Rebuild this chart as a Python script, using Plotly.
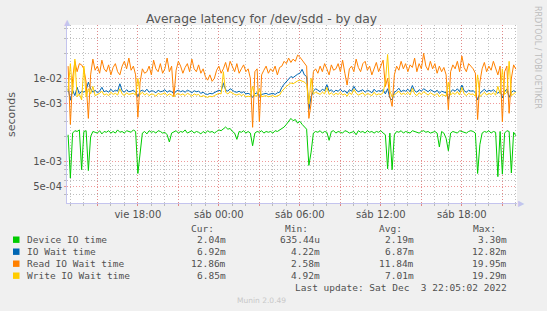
import numpy as np
import pandas as pd
import plotly.graph_objects as go

# ---------------- data (in milliseconds) ----------------
times = pd.date_range("2022-12-02 12:50:00", periods=200, freq="10min")

device_ms = [
    2.1, 0.635, 2.2, 2.35, 2.3, 2.4, 0.8, 2.3, 2.35, 0.78,
    2.0, 2.3, 2.25, 2.2, 2.35, 2.15, 2.3, 2.25, 2.35, 2.2,
    2.3, 2.2, 2.4, 2.25, 2.3, 2.2, 2.35, 2.3, 2.25, 2.4,
    2.3, 0.72, 1.3, 2.2, 2.3, 2.15, 2.35, 2.25, 2.3, 2.2,
    2.35, 2.3, 2.2, 2.25, 2.1, 1.72, 2.2, 2.3, 2.35, 2.2,
    2.3, 2.25, 2.4, 2.2, 2.3, 2.35, 2.2, 2.3, 2.25, 2.15,
    2.3, 2.2, 2.35, 2.25, 2.3, 2.2, 2.3, 2.4, 2.35, 2.5,
    2.6, 2.45, 2.5, 2.3, 2.2, 1.85, 2.3, 2.25, 2.35, 2.2,
    2.3, 2.2, 1.55, 2.2, 2.3, 2.25, 2.35, 2.2, 2.3, 2.25,
    2.3, 2.2, 2.35, 2.3, 2.4, 2.5, 2.6, 2.8, 3.0, 3.3,
    3.1, 3.2, 2.9, 3.05, 2.8, 2.6, 2.45, 0.9, 1.3, 2.2,
    2.3, 2.25, 2.35, 2.2, 2.3, 2.25, 1.8, 2.3, 2.35, 2.2,
    2.3, 2.25, 2.2, 2.35, 2.3, 2.2, 2.25, 2.3, 2.1, 2.35,
    2.25, 2.3, 2.2, 2.35, 2.25, 2.3, 2.2, 2.3, 2.25, 2.35,
    2.2, 2.1, 0.82, 2.2, 0.8, 2.1, 2.3, 2.25, 2.35, 2.2,
    2.3, 2.25, 2.2, 2.35, 2.3, 2.25, 2.2, 2.3, 2.35, 2.25,
    2.3, 2.2, 2.25, 2.3, 2.2, 1.5, 2.3, 2.2, 1.9, 1.35,
    2.2, 2.3, 2.25, 2.2, 2.35, 2.3, 2.25, 2.2, 2.3, 2.35,
    2.3, 2.2, 0.72, 1.6, 2.2, 2.3, 2.25, 2.35, 2.2, 2.3,
    2.25, 0.66, 2.3, 0.71, 2.2, 2.35, 2.3, 0.73, 2.25, 2.04,
]

iowait_ms = [
    7.5, 5.5, 7.2, 6.2, 7.8, 6.5, 7.0, 6.8, 7.2, 9.0,
    7.5, 6.8, 7.2, 6.7, 7.0, 7.8, 6.9, 7.1, 6.8, 7.4,
    6.9, 7.2, 7.0, 8.6, 7.1, 6.8, 7.3, 6.9, 7.0, 7.2,
    6.8, 6.0, 7.0, 7.2, 6.9, 7.4, 6.8, 7.1, 7.0, 6.7,
    7.2, 6.9, 7.0, 7.3, 6.8, 7.1, 6.9, 6.5, 7.0, 7.2,
    6.9, 7.1, 6.8, 7.2, 7.0, 6.7, 7.1, 6.9, 7.0, 6.6,
    6.8, 6.5, 6.4, 6.6, 6.5, 6.7, 6.9, 7.2, 7.0, 8.7,
    7.3, 7.0, 7.5, 7.1, 6.9, 6.8, 7.0, 6.7, 6.9, 6.5,
    6.6, 6.4, 5.9, 6.5, 6.7, 6.1, 6.4, 6.5, 6.6, 6.4,
    6.5, 6.6, 6.4, 6.7, 6.8, 7.8, 8.5, 9.2, 9.8, 10.5,
    10.2, 10.8, 11.2, 11.5, 12.82, 11.0, 10.5, 4.22, 6.0, 7.0,
    7.5, 7.2, 6.9, 7.4, 7.1, 8.4, 7.0, 7.3, 6.8, 7.2,
    7.0, 7.4, 6.9, 7.1, 6.6, 7.3, 7.0, 8.0, 7.2, 6.9,
    7.1, 7.3, 6.8, 7.2, 7.0, 6.7, 7.4, 6.9, 7.1, 7.0,
    7.3, 6.5, 7.5, 5.8, 5.5, 6.8, 7.1, 7.6, 6.9, 7.2,
    7.0, 7.4, 6.9, 8.2, 7.1, 6.8, 7.3, 7.0, 7.5, 7.1,
    6.9, 7.3, 7.0, 6.8, 7.2, 6.6, 7.0, 6.9, 6.7, 5.6,
    6.9, 7.3, 7.0, 7.5, 6.9, 8.3, 7.1, 6.8, 7.2, 7.0,
    7.1, 6.7, 5.5, 6.6, 7.0, 7.4, 6.9, 7.2, 7.0, 7.3,
    6.9, 6.6, 7.1, 5.8, 7.0, 7.4, 5.9, 6.8, 7.1, 6.92,
]

read_ms = [
    14, 2.8, 10, 16, 12, 15, 14.5, 13, 9, 3.3,
    11, 17, 12.5, 14, 11.5, 16.5, 13, 12, 14.5, 11,
    13.5, 15, 12, 11, 14, 16, 13, 17.5, 12.5, 14,
    11, 3.4, 9, 13, 11.5, 12, 14, 11, 16.5, 13,
    12, 15, 11.5, 13, 17.5, 12, 14, 6, 12.5, 16,
    14, 11.5, 13.5, 15, 12, 17, 13, 12, 14.5, 11.5,
    13, 10.5, 9.5, 11, 9.2, 10, 12.5, 14, 11.5, 13,
    15.5, 12, 16, 14, 12, 15, 11.5, 13, 14.5, 12,
    13, 10, 2.58, 12, 13, 3.0, 11, 12.5, 14, 11.5,
    13, 12, 14, 11, 13.5, 14, 16, 15, 17.5, 15.5,
    17, 16, 19, 18, 16.5, 15, 14, 3.3, 5, 12,
    13, 11.5, 14, 12, 15, 13, 11, 14.5, 12.5, 13,
    15, 12, 16.5, 11.5, 8.3, 13, 14, 12, 17, 13.5,
    12, 15, 16, 12.5, 14, 11, 13, 15.5, 12, 14,
    16.5, 8, 10, 6, 4.6, 11, 14, 12.5, 16, 13,
    15, 12, 14.5, 13.5, 17.5, 12, 15, 13, 19.95, 14,
    12.5, 16, 13, 15, 11.5, 14, 12, 13.5, 11, 4.2,
    12, 14.5, 13, 16, 12, 18.5, 13.5, 12, 15, 14,
    13, 11.5, 3.2, 9, 13, 15.5, 12, 14, 12.5, 16,
    13, 11, 14, 3.0, 12, 14, 3.8, 10, 14.5, 12.86,
]

write_ms = [
    7.0, 15, 6.5, 17, 6.0, 6.5, 5.5, 14, 6.0, 7.5,
    6.5, 8.0, 6.2, 6.4, 6.6, 7.0, 6.3, 6.5, 6.2, 6.8,
    6.4, 6.6, 6.3, 7.5, 6.5, 6.2, 6.7, 6.4, 6.5, 6.6,
    6.3, 10, 6.4, 6.8, 6.3, 6.6, 6.2, 6.5, 6.4, 6.1,
    6.6, 6.4, 6.5, 6.7, 6.2, 6.5, 6.3, 6.0, 6.4, 6.6,
    6.3, 6.5, 6.2, 6.6, 6.4, 6.1, 6.5, 6.3, 6.4, 6.0,
    6.2, 6.0, 5.9, 6.1, 6.0, 6.2, 6.4, 6.6, 6.5, 12,
    6.8, 6.5, 6.9, 6.6, 6.4, 6.3, 6.5, 6.2, 6.4, 6.0,
    6.1, 6.0, 8.0, 6.1, 6.2, 7.5, 6.0, 6.1, 6.2, 6.0,
    6.1, 6.2, 6.0, 6.2, 6.3, 7.0, 7.6, 8.0, 8.4, 8.8,
    8.6, 9.0, 9.3, 9.5, 9.2, 9.0, 8.5, 4.92, 10, 6.5,
    6.8, 6.6, 6.4, 6.8, 6.5, 7.8, 6.4, 6.7, 6.3, 6.6,
    6.4, 6.8, 6.3, 6.5, 6.1, 6.7, 6.4, 7.4, 6.6, 6.3,
    6.5, 6.7, 6.2, 6.6, 6.4, 6.2, 6.8, 6.3, 6.5, 6.4,
    6.7, 9, 19.29, 7, 6.0, 6.3, 6.5, 7.0, 6.4, 6.6,
    6.4, 6.8, 6.3, 7.6, 6.5, 6.2, 6.7, 6.4, 6.9, 6.5,
    6.3, 6.7, 6.4, 6.2, 6.6, 6.0, 6.4, 6.3, 6.1, 9.0,
    6.3, 6.7, 6.4, 6.9, 6.3, 7.8, 6.5, 6.2, 6.6, 6.4,
    6.5, 6.1, 11, 6.0, 6.4, 6.8, 6.3, 6.6, 6.4, 6.7,
    6.3, 8.0, 6.5, 13, 6.4, 6.8, 16, 6.2, 6.5, 6.85,
]

series_names = ["Device IO time", "IO Wait time", "Read IO Wait time", "Write IO Wait time"]
series_colors = ["#00CC00", "#0066B3", "#FF8000", "#FFCC00"]
series_values = [device_ms, iowait_ms, read_ms, write_ms]

cur_txt = ["2.04m", "6.92m", "12.86m", "6.85m"]
min_txt = ["635.44u", "4.22m", "2.58m", "4.92m"]
avg_txt = ["2.19m", "6.87m", "11.84m", "7.01m"]
max_txt = ["3.30m", "12.82m", "19.95m", "19.29m"]
col_headers = ["Cur:", "Min:", "Avg:", "Max:"]

x_tick_vals = list(pd.date_range("2022-12-02 15:00", "2022-12-03 21:00", freq="3h"))
x_tick_text = ["", "vie 18:00", "", "sáb 00:00", "", "sáb 06:00", "", "sáb 12:00", "", "sáb 18:00", ""]
y_tick_vals = [5e-4, 1e-3, 5e-3, 1e-2]
y_tick_text = ["5e-04", "1e-03", "5e-03", "1e-02"]
y_minor_vals = [m * 10.0 ** e for e in (-4, -3, -2) for m in (2, 3, 4, 6, 7, 8, 9)]

title_text = "Average latency for /dev/sdd - by day"
last_update = "Last update: Sat Dec  3 22:05:02 2022"

# ---------------- layout geometry ----------------
W, H = 547, 311
L, R, T, B = 67, 517, 25, 203


def px(x):
    return (x - L) / (R - L)


def py(y):
    return (B - y) / (B - T)


TXT = "#505050"
MONO = "DejaVu Sans Mono"
SANS = "DejaVu Sans"

fig = go.Figure()
for name, color, vals in zip(series_names, series_colors, series_values):
    fig.add_trace(go.Scatter(
        x=times, y=np.array(vals) * 1e-3, mode="lines", name=name,
        line=dict(color=color, width=1), showlegend=False, hoverinfo="skip",
    ))

grid_major = "rgba(235,120,120,0.75)"
grid_minor = "rgba(170,170,170,0.75)"
axis_col = "#C4C4EE"

fig.update_layout(
    width=W, height=H,
    margin=dict(l=L, r=W - R, t=T, b=H - B, pad=0),
    paper_bgcolor="#F0F0F0", plot_bgcolor="#FFFFFF",
    font=dict(family=SANS, color=TXT, size=10),
    xaxis=dict(
        type="date",
        range=["2022-12-02 12:45:02", "2022-12-03 22:05:02"],
        tickmode="array", tickvals=x_tick_vals, ticktext=x_tick_text,
        showgrid=True, gridcolor=grid_major, griddash="1px,2px", gridwidth=1,
        ticks="outside", ticklen=2, tickcolor=grid_major,
        tickfont=dict(family=SANS, size=10, color=TXT),
        showline=True, linecolor=axis_col, linewidth=1, zeroline=False,
        minor=dict(dtick=3600000, tick0="2022-12-02 13:00", showgrid=True,
                   gridcolor=grid_minor, griddash="1px,2px", gridwidth=1,
                   ticks="outside", ticklen=2, tickcolor=grid_minor),
    ),
    yaxis=dict(
        type="log", range=[-3.497, -1.360],
        tickmode="array", tickvals=y_tick_vals, ticktext=y_tick_text,
        showgrid=True, gridcolor=grid_major, griddash="1px,2px", gridwidth=1,
        ticks="outside", ticklen=2, tickcolor=grid_major,
        tickfont=dict(family=SANS, size=10, color=TXT),
        showline=True, linecolor=axis_col, linewidth=1, zeroline=False,
        minor=dict(tickmode="array", tickvals=y_minor_vals, showgrid=True,
                   gridcolor=grid_minor, griddash="1px,2px", gridwidth=1,
                   ticks="outside", ticklen=2, tickcolor=grid_minor),
    ),
)

ann = []
ann.append(dict(text=title_text, x=px(261), y=py(19.5), xref="paper", yref="paper",
                showarrow=False, xanchor="center", yanchor="middle",
                font=dict(family=SANS, size=12.3, color="#555555")))
ann.append(dict(text="seconds", x=px(11), y=py(115), xref="paper", yref="paper",
                showarrow=False, textangle=-90, xanchor="center", yanchor="middle",
                font=dict(family=SANS, size=11, color="#555555")))
ann.append(dict(text="RRDTOOL / TOBI OETIKER", x=px(538), y=py(57), xref="paper", yref="paper",
                showarrow=False, textangle=90, xanchor="center", yanchor="middle",
                font=dict(family=SANS, size=8, color="#BDBDBD")))
ann.append(dict(text="Munin 2.0.49", x=px(261), y=py(300), xref="paper", yref="paper",
                showarrow=False, xanchor="center", yanchor="middle",
                font=dict(family=SANS, size=7.5, color="#C8C8C8")))

# axis arrow heads (decoration)
ann.append(dict(text="▲", x=px(67), y=py(23), xref="paper", yref="paper",
                showarrow=False, xanchor="center", yanchor="middle",
                font=dict(family=SANS, size=8, color=axis_col)))
ann.append(dict(text="▶", x=px(521.5), y=py(203), xref="paper", yref="paper",
                showarrow=False, xanchor="center", yanchor="middle",
                font=dict(family=SANS, size=8, color=axis_col)))

col_right = [227.7, 322.3, 415.7, 509.3]
head_right = [216, 310, 404, 498]
for hx, h in zip(head_right, col_headers):
    ann.append(dict(text=h, x=px(hx), y=py(228.5), xref="paper", yref="paper",
                    showarrow=False, xanchor="right", yanchor="middle",
                    font=dict(family=MONO, size=9.5, color=TXT)))

row_y = [239.7, 251.7, 263.7, 275.7]
shapes = []
for k, name in enumerate(series_names):
    yy = row_y[k]
    ann.append(dict(text=name, x=px(25), y=py(yy), xref="paper", yref="paper",
                    showarrow=False, xanchor="left", yanchor="middle",
                    font=dict(family=MONO, size=9.5, color=TXT)))
    for cx, col in zip(col_right, [cur_txt, min_txt, avg_txt, max_txt]):
        ann.append(dict(text=col[k], x=px(cx), y=py(yy), xref="paper", yref="paper",
                        showarrow=False, xanchor="right", yanchor="middle",
                        font=dict(family=MONO, size=9.5, color=TXT)))
    shapes.append(dict(type="rect", xref="paper", yref="paper",
                       x0=px(13), x1=px(19.5), y0=py(yy + 3.2), y1=py(yy - 3.2),
                       fillcolor=series_colors[k], line=dict(width=0)))

ann.append(dict(text=last_update, x=px(509.3), y=py(287.3), xref="paper", yref="paper",
                showarrow=False, xanchor="right", yanchor="middle",
                font=dict(family=MONO, size=9.5, color=TXT)))

fig.update_layout(annotations=ann, shapes=shapes)

fig.write_html("out.html", config={"displayModeBar": False})
